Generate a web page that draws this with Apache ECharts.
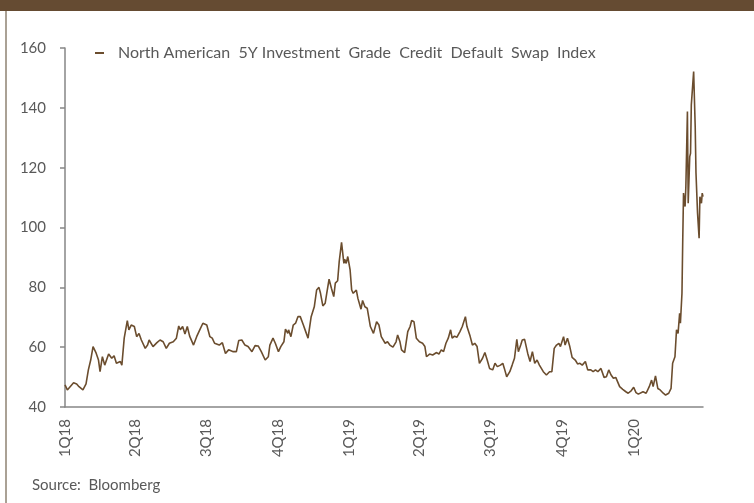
<!DOCTYPE html>
<html>
<head>
<meta charset="utf-8">
<script src="https://cdn.jsdelivr.net/npm/echarts@6/dist/echarts.min.js"></script>
<style>
html,body{margin:0;padding:0;background:#fff;}
#chart{width:754px;height:503px;}
</style>
</head>
<body>
<div id="chart"></div>
<script>
// Days since 2018-01-01
var dayIndex = [
0,3,11,15,18,23,27,30,33,36,40,43,45,48,51,56,60,63,66,71,73,76,78,80,82,85,89,92,95,98,103,106,108,113,118,122,126,130,134,139,143,146,148,151,154,157,160,165,169,173,177,182,186,189,192,
198,202,206,210,216,220,223,227,231,235,240,244,248,252,257,261,263,267,270,274,277,281,283,286,287,290,293,296,299,302,306,309,312,316,320,323,326,328,331,334,336,339,342,345,347,350,352,355,358,359,361,363,366,368,370,374,376,380,382,385,388,392,
396,400,403,406,411,414,417,421,425,427,430,432,436,438,440,443,445,448,451,455,459,462,464,468,472,477,480,483,486,489,492,495,497,500,503,507,510,514,516,520,523,526,529,532,536,539,542,545,549,552,555,559,562,564,567,571,574,577,580,582,585,587,
590,594,597,600,603,606,609,614,618,622,625,628,631,634,636,640,642,645,648,651,655,658,661,664,668,671,675,678,681,684,688,692,695,698,701,704,707,712,716,720,723,727,730,733,736,
742,746,750,753,755,758,761,764,768,771,775,778,780,783,785,787,789,790,792,793,794,796,797,799,800,802,803,804,806,807,809,810,812,814,815,817,818,819
];
var cdxValues = [
47.4,45.7,48.1,47.7,46.8,45.7,47.7,52.4,55.7,60.2,58,55.7,51.8,56.8,54,57.7,56.3,57.1,54.6,55.2,54,63,62.4,68.9,65.8,67.4,66.9,63.5,64.6,62.4,59.6,60.7,62.4,60.2,61.5,62.4,61.8,59.6,61.3,61.8,63,67.1,65.8,66.9,64.4,66.9,63.7,60.7,63.5,65.8,68,67.4,63.5,63,61.3,
60.7,61.5,57.9,59.1,58.5,58.5,62.2,62.4,60.7,60.2,58.5,60.5,60.4,58.5,55.7,56.8,60.7,63,61.3,58.5,60.2,61.8,66,64.6,65.8,63.5,67.4,68,70.2,70.2,67.4,65.2,63,70.2,73.5,79.1,80,78,73.8,74.7,78,82.7,79.7,76.9,81.4,82.2,88.6,95,88,89.4,88,90.3,85.8,79.1,78,79.1,76.3,72.7,75.6,73.5,73,66.9,
64.6,68.5,67.4,63.5,61.3,61.8,60.7,60,61.8,64.1,61.8,59.1,58.2,57.7,65.2,66.9,68.9,68.5,63,61.8,61.3,60.2,56.8,57.7,57.4,58.2,57.7,59.1,58.5,61.3,63,65.8,63,63.7,63.3,65.2,66.9,70.2,66.9,63.7,60.7,61.3,60.2,54.6,56.3,58.2,55.7,52.9,52.4,54.6,53.5,54,54.6,52.9,50.1,51.8,54,56.3,62.6,58.5,60.7,62.4,
62.6,57.9,55.2,58.5,54.6,55.7,54,51.8,50.7,51.8,51.8,59.6,60.7,61.3,60.2,63.5,60.7,63,60.2,56.6,55.7,54.4,54.6,54,55.2,52.4,52.4,51.8,52.4,51.8,52.9,49.9,50.1,52.4,50.7,49.6,49.9,46.8,45.9,45.1,44.6,45.5,46.6,44.8,44.3,
45.1,44.6,46.8,49,46.8,50.4,46.2,45.7,44.6,44,44.6,46.2,54.6,56.8,65.8,64.6,71.3,68,78,95.9,111.5,107,113.7,138.8,108.1,123.7,124.8,141,141.6,152.1,133.7,118.2,104.8,96.4,110.3,108.1,111.5,110.3
];
var quarterDays = [0,90,181,273,365,455,546,638,730];
var quarterLabels = ['1Q18','2Q18','3Q18','4Q18','1Q19','2Q19','3Q19','4Q19','1Q20'];
var yTicks = [40,60,80,100,120,140,160];
var seriesName = 'North American  5Y Investment  Grade  Credit  Default  Swap  Index';
var sourceText = 'Source:  Bloomberg';

var FONT = 'Lato, "Open Sans", sans-serif';
var GREY = '#595959';
var data = dayIndex.map(function(d,i){return [d, cdxValues[i]];});

var chart = echarts.init(document.getElementById('chart'), null, {renderer:'canvas'});
chart.setOption({
  animation:false,
  backgroundColor:'#fff',
  grid:{left:65, right:51, top:48, bottom:96, containLabel:false},
  legend:{
    left:90, top:40,
    icon:'rect', itemWidth:9, itemHeight:2,
    data:[seriesName],
    textStyle:{color:GREY, fontSize:16, fontFamily:FONT, padding:[0,0,0,9]}
  },
  xAxis:{
    type:'value', min:0, max:819,
    axisLine:{show:true, lineStyle:{color:'#868686', width:1.5}},
    axisTick:{show:false},
    splitLine:{show:false},
    axisLabel:{
      customValues:quarterDays,
      rotate:90, margin:12,
      color:GREY, fontSize:15, fontFamily:FONT,
      formatter:function(v){var i=quarterDays.indexOf(v);return i>=0?quarterLabels[i]:'';}
    }
  },
  yAxis:{
    type:'value', min:yTicks[0], max:yTicks[yTicks.length-1], interval:20,
    axisLine:{show:true, lineStyle:{color:'#868686', width:1.5}},
    axisTick:{show:true, length:5, lineStyle:{color:'#868686', width:1.5}},
    splitLine:{show:false},
    axisLabel:{color:GREY, fontSize:15, fontFamily:FONT, margin:19}
  },
  series:[{
    name:seriesName, type:'line', data:data,
    showSymbol:false, symbol:'none',
    lineStyle:{color:'#6b4d2e', width:1.6},
    itemStyle:{color:'#6b4d2e'}
  }],
  graphic:[
    {type:'rect', shape:{x:0,y:0,width:754,height:11}, style:{fill:'#654b32'}, silent:true},
    {type:'rect', shape:{x:5,y:11,width:2,height:492}, style:{fill:'#aaa195'}, silent:true},
    {type:'text', left:32, top:478, style:{text:sourceText, fill:GREY, font:'15px '+FONT}}
  ]
});
</script>
</body>
</html>
